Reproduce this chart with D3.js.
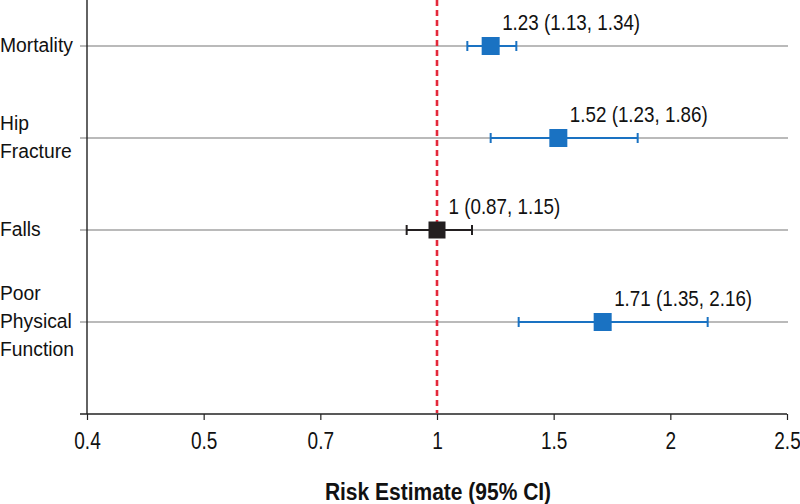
<!DOCTYPE html>
<html>
<head>
<meta charset="utf-8">
<script src="https://cdn.jsdelivr.net/npm/d3@7"></script>
<style>
  html, body { margin: 0; padding: 0; background: #fff; }
  svg { display: block; }
  text { font-family: "Liberation Sans", Arial, Helvetica, sans-serif; }
</style>
</head>
<body>
<svg id="chart" width="800" height="504"></svg>
<script>
// ---- data ----
const categories = ["Mortality", "Hip Fracture", "Falls", "Poor Physical Function"];
const categoryLines = [["Mortality"], ["Hip", "Fracture"], ["Falls"], ["Poor", "Physical", "Function"]];
const estimates = [1.23, 1.52, 1.00, 1.71];
const lowerCI = [1.13, 1.23, 0.87, 1.35];
const upperCI = [1.34, 1.86, 1.15, 2.16];
const labels = ["1.23 (1.13, 1.34)", "1.52 (1.23, 1.86)", "1 (0.87, 1.15)", "1.71 (1.35, 2.16)"];
const isReference = [false, false, true, false];
const tickLabels = ["0.4", "0.5", "0.7", "1", "1.5", "2", "2.5"];
const referenceValue = 1;
const xTitle = "Risk Estimate (95% CI)";

// ---- layout ----
const mLeft = 87, mRight = 787, mTop = 0, mBottom = 414;
const blue = "#1a72c2", black = "#231f20", red = "#e4283a", grid = "#a3a3a3";

const svg = d3.select("#chart");

const x = d3.scaleLinear().domain([-0.5, 2.5]).range([mLeft, mRight]);
const y = d3.scaleBand().domain(categories).range([mTop, mTop + 368]).paddingInner(0).paddingOuter(0);
const cy = c => y(c) + y.bandwidth() / 2;

// gridlines (acting as y-axis ticks)
svg.append("g").selectAll("line").data(categories).join("line")
  .attr("x1", mLeft - 7).attr("x2", mRight + 1)
  .attr("y1", d => cy(d)).attr("y2", d => cy(d))
  .attr("stroke", grid).attr("stroke-width", 1.3);

// x axis
const xTicks = x.ticks(6);
const xAxis = d3.axisBottom(x).tickValues(xTicks)
  .tickFormat((d, i) => tickLabels[i]).tickSize(6).tickPadding(11).tickSizeOuter(0);
const gx = svg.append("g").attr("transform", `translate(0,${mBottom})`).call(xAxis);
gx.attr("font-family", null).attr("font-size", null);
gx.select(".domain").attr("stroke", "#222").attr("stroke-width", 1.4).attr("d", `M${mLeft - 7},0H${mRight}`);
gx.selectAll(".tick line").attr("stroke", "#222").attr("stroke-width", 1.2);
gx.selectAll(".tick text").attr("font-size", 23.5).attr("fill", "#111")
  .attr("dy", null).attr("y", 0).attr("transform", "translate(0,35) scale(0.81,1)");

// y axis line
svg.append("line").attr("x1", mLeft).attr("x2", mLeft).attr("y1", mTop).attr("y2", mBottom)
  .attr("stroke", "#222").attr("stroke-width", 1.4);

// category labels
const catG = svg.append("g");
categories.forEach((c, i) => {
  const lines = categoryLines[i];
  const n = lines.length;
  lines.forEach((ln, j) => {
    const yy = cy(c) - 1.5 + 7.5 + (j - (n - 1) / 2) * 28;
    catG.append("text").attr("font-size", 21).attr("fill", "#111")
      .attr("transform", `translate(0,${yy}) scale(0.92,1)`)
      .text(ln);
  });
});

// reference line
svg.append("line").attr("x1", x(referenceValue)).attr("x2", x(referenceValue))
  .attr("y1", mTop).attr("y2", mBottom - 1)
  .attr("stroke", red).attr("stroke-width", 2.6).attr("stroke-dasharray", "6,4");

// error bars + markers
const rows = categories.map((c, i) => ({ c, est: estimates[i], lo: lowerCI[i], hi: upperCI[i], label: labels[i], ref: isReference[i] }));
const g = svg.append("g").selectAll("g").data(rows).join("g");
g.append("line")
  .attr("x1", d => x(d.lo)).attr("x2", d => x(d.hi))
  .attr("y1", d => cy(d.c)).attr("y2", d => cy(d.c))
  .attr("stroke", d => d.ref ? black : blue).attr("stroke-width", 2.2);
g.selectAll(".cap").data(d => [{ v: d.lo, d }, { v: d.hi, d }]).join("line")
  .attr("x1", e => x(e.v)).attr("x2", e => x(e.v))
  .attr("y1", e => cy(e.d.c) - 5).attr("y2", e => cy(e.d.c) + 5)
  .attr("stroke", e => e.d.ref ? black : blue).attr("stroke-width", 2);
g.append("rect")
  .attr("x", d => x(d.est) - (d.ref ? 8.5 : 9)).attr("y", d => cy(d.c) - (d.ref ? 8.5 : 9))
  .attr("width", d => d.ref ? 17 : 18).attr("height", d => d.ref ? 17 : 18)
  .attr("fill", d => d.ref ? black : blue);
g.append("text")
  .attr("transform", d => `translate(${x(d.est) + 11.5},${cy(d.c) - 16}) scale(0.855,1)`)
  .attr("font-size", 22).attr("fill", "#111")
  .text(d => d.label);

// x title
svg.append("text")
  .attr("transform", `translate(${(mLeft + mRight) / 2 + 1},500) scale(0.875,1)`)
  .attr("text-anchor", "middle").attr("font-size", 24).attr("font-weight", "bold").attr("fill", "#111")
  .text(xTitle);
</script>
</body>
</html>
